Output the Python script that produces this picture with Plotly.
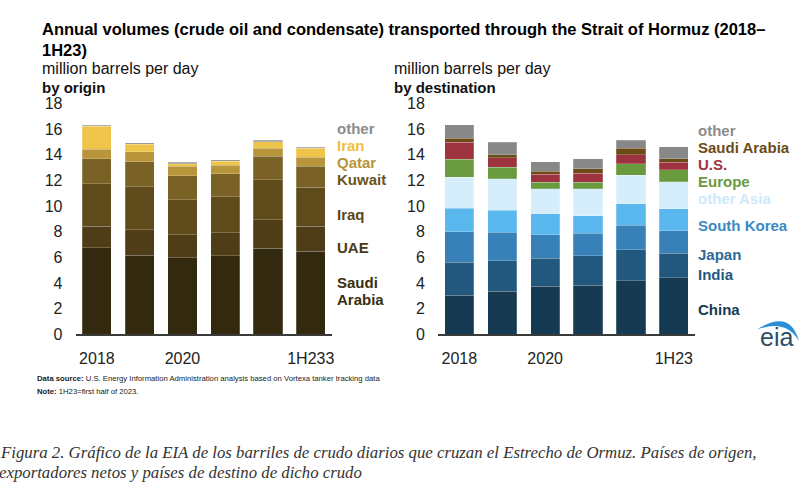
import plotly.graph_objects as go

W, H = 804, 491

categories = ["2018", "2019", "2020", "2021", "2022", "1H23"]
left_ticktext = ["2018", "", "2020", "", "", "1H233"]
right_ticktext = ["2018", "", "2020", "", "", "1H23"]

# by origin (million b/d)
origin_names = ["Saudi Arabia", "UAE", "Iraq", "Kuwait", "Qatar", "Iran", "other"]
saudi = [6.75, 6.17, 5.97, 6.12, 6.70, 6.47]
uae = [1.69, 1.99, 1.81, 1.81, 2.22, 1.97]
iraq = [3.32, 3.35, 2.72, 2.80, 3.15, 3.02]
kuwait = [1.94, 1.94, 1.87, 1.79, 1.81, 1.66]
qatar = [0.73, 0.78, 0.73, 0.65, 0.63, 0.68]
iran = [1.82, 0.61, 0.20, 0.33, 0.53, 0.71]
origin_other = [0.05, 0.10, 0.13, 0.13, 0.10, 0.10]
origin_values = [saudi, uae, iraq, kuwait, qatar, iran, origin_other]
origin_colors = ["#33290e", "#4e3d17", "#5f4a1c", "#7a6226", "#b8943a", "#efc44a", "#9a9a9a"]

# by destination (million b/d)
dest_names = ["China", "India", "Japan", "South Korea", "other Asia", "Europe", "U.S.", "Saudi Arabia", "other"]
china = [3.06, 3.36, 3.76, 3.81, 4.17, 4.42]
india = [2.57, 2.37, 2.17, 2.33, 2.42, 1.89]
japan = [2.37, 2.22, 1.84, 1.74, 1.92, 1.77]
south_korea = [1.85, 1.72, 1.62, 1.36, 1.69, 1.72]
other_asia = [2.40, 2.45, 1.95, 2.10, 2.22, 2.09]
europe = [1.39, 0.91, 0.53, 0.53, 0.89, 0.96]
us = [1.34, 0.73, 0.60, 0.71, 0.71, 0.56]
saudi_dest = [0.32, 0.25, 0.26, 0.32, 0.50, 0.28]
dest_other = [1.04, 0.96, 0.73, 0.79, 0.63, 0.93]
dest_values = [china, india, japan, south_korea, other_asia, europe, us, saudi_dest, dest_other]
dest_colors = ["#163a52", "#22587e", "#3780b8", "#5bb8ef", "#d6eefb", "#6a9a3e", "#9e3340", "#6b4c17", "#888888"]

FONT = "Liberation Sans, Arial, sans-serif"

fig = go.Figure()
for name, vals, col in zip(origin_names, origin_values, origin_colors):
    fig.add_trace(go.Bar(x=categories, y=vals, name=name, marker_color=col,
                         marker_line=dict(width=0.6, color="rgba(255,255,255,0.35)"),
                         xaxis="x", yaxis="y", showlegend=False))
for name, vals, col in zip(dest_names, dest_values, dest_colors):
    fig.add_trace(go.Bar(x=categories, y=vals, name=name, marker_color=col,
                         marker_line=dict(width=0.6, color="rgba(255,255,255,0.35)"),
                         xaxis="x2", yaxis="y2", showlegend=False))

def px(x):
    return x / W

def py(y):
    return 1 - y / H

ydom = [py(338), py(99)]
xaxis_common = dict(type="category", showgrid=False, zeroline=False, showline=True,
                    linecolor="#3a3a3a", linewidth=1.5, ticks="", ticklabelstandoff=9,
                    tickfont=dict(family=FONT, size=16, color="#222"), fixedrange=True)
yaxis_common = dict(range=[0, 18], dtick=2, showgrid=False, zeroline=False, showline=False,
                    ticks="", ticklabelstandoff=12,
                    tickfont=dict(family=FONT, size=16, color="#222"), fixedrange=True)

fig.update_layout(
    width=W, height=H, margin=dict(l=0, r=0, t=0, b=0),
    paper_bgcolor="white", plot_bgcolor="white",
    barmode="stack", bargap=0.32,
    xaxis=dict(domain=[px(75.7), px(333)], tickvals=categories, ticktext=left_ticktext, anchor="y", **xaxis_common),
    yaxis=dict(domain=ydom, anchor="x", **yaxis_common),
    xaxis2=dict(domain=[px(439), px(697)], tickvals=categories, ticktext=right_ticktext, anchor="y2", **xaxis_common),
    yaxis2=dict(domain=ydom, anchor="x2", **yaxis_common),
    font=dict(family=FONT),
)

ann = []
def text(x, y, s, size=16, color="#111", bold=False, xanchor="left", family=FONT, italic=False):
    t = f"<b>{s}</b>" if bold else s
    if italic:
        t = f"<i>{t}</i>"
    ann.append(dict(x=px(x), y=py(y), xref="paper", yref="paper", text=t, showarrow=False,
                    xanchor=xanchor, yanchor="middle", font=dict(family=family, size=size, color=color)))

text(40, 22, "Annual volumes (crude oil and condensate) transported through the Strait of Hormuz (2018–", 16.5, "#000", bold=True)
text(40, 44, "1H23)", 16.5, "#000", bold=True)
text(40, 63, "million barrels per day", 16)
text(40, 82, "by origin", 15, bold=True)
text(393, 63, "million barrels per day", 16)
text(393, 82, "by destination", 15, bold=True)

# origin labels
left_labels = [("other", 125, "#8c8c8c"), ("Iran", 142, "#efc040"), ("Qatar", 160, "#b8943a"),
               ("Kuwait", 178, "#6b5520"), ("Iraq", 214, "#5a471c"), ("UAE", 248, "#4a3a16"),
               ("Saudi", 284, "#3a2f10"), ("Arabia", 302, "#3a2f10")]
for s, y, c in left_labels:
    text(336, y, s, 15, c, bold=True)

right_labels = [("other", 127, "#8c8c8c"), ("Saudi Arabia", 144, "#6b4c17"), ("U.S.", 162, "#9e3340"),
                ("Europe", 180, "#6a9a3e"), ("other Asia", 197, "#cde9fb"), ("South Korea", 225, "#3a8ac4"),
                ("Japan", 255, "#2e6a98"), ("India", 276, "#22587e"), ("China", 312, "#163a52")]
for s, y, c in right_labels:
    text(698, y, s, 15, c, bold=True)

text(35, 384, "<b>Data source:</b> U.S. Energy Information Administration analysis based on Vortexa tanker tracking data", 7.7, "#222")
text(35, 397, "<b>Note:</b> 1H23=first half of 2023.", 7.7, "#222")

SERIF = "Liberation Serif, Times New Roman, serif"
text(-2, 460, "Figura 2. Gráfico de la EIA de los barriles de crudo diarios que cruzan el Estrecho de Ormuz. Países de origen,", 16.8, "#333", family=SERIF, italic=True)
text(-3, 481, "exportadores netos y países de destino de dicho crudo", 16.8, "#333", family=SERIF, italic=True)

# eia logo
text(778, 341, "eia", 25, "#2d4f66", xanchor="center")
fig.update_layout(annotations=ann)
fig.add_shape(type="path", xref="paper", yref="paper",
              path=f"M {px(759)},{py(333)} Q {px(792)},{py(311)} {px(801)},{py(345)} Q {px(788)},{py(322)} {px(759)},{py(333)} Z",
              fillcolor="#2a8fd6", line=dict(width=0))

fig.write_html("out.html")
